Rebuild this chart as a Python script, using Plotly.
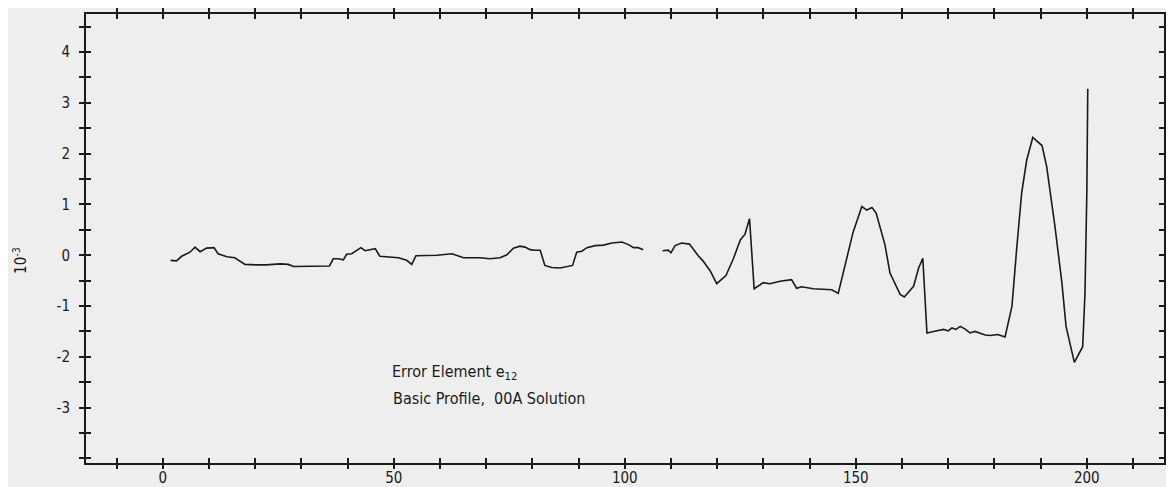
import plotly.graph_objects as go

# Error element e12 (units of 1e-3)
x_vals = [1.7, 3.0, 4.1, 5.9, 7.0, 8.1, 9.5, 11.1, 12.0, 13.9, 15.6, 17.8, 20.3, 22.4, 25.4,
          27.2, 28.3, 31.9, 36.1, 36.9, 38.0, 39.1, 39.8, 40.9, 42.9, 43.8, 44.9, 46.0, 47.0,
          49.2, 51.0, 52.8, 53.9, 54.8, 57.1, 59.3, 62.6, 65.1, 68.7, 70.8, 73.0, 74.5, 75.9,
          77.3, 78.4, 79.5, 80.6, 81.7, 82.7, 84.2, 86.0, 87.6, 88.7, 89.6, 90.7, 91.8, 93.6,
          95.4, 97.2, 99.4, 100.8, 101.9, 102.9, 104.0, None,
          108.2, 109.4, 110.0, 110.9, 112.3, 114.0, 115.9, 117.0, 118.5, 119.9, 121.9, 123.5,
          125.0, 126.0, 127.0, 128.0, 130.0, 131.4, 133.6, 136.1, 137.2, 138.3, 140.8, 143.7,
          144.8, 146.2, 148.1, 149.4, 151.3, 152.4, 153.5, 154.4, 156.3, 157.4, 159.6, 160.5,
          162.5, 163.6, 164.5, 165.4, 166.8, 168.0, 169.0, 170.0, 170.8, 171.7, 172.6, 173.6,
          174.7, 175.8, 176.9, 178.0, 179.1, 180.7, 182.3,
          183.8, 184.8, 185.9, 187.0, 188.3, 190.3, 191.3, 193.1, 194.6, 195.5, 197.3, 199.1,
          199.6, 200.0, 200.2]
y_vals = [-0.10, -0.11, -0.02, 0.06, 0.16, 0.07, 0.14, 0.15, 0.03, -0.03, -0.05, -0.18, -0.19, -0.19, -0.17,
          -0.18, -0.22, -0.21, -0.21, -0.07, -0.07, -0.09, 0.02, 0.03, 0.15, 0.09, 0.11, 0.13, -0.02,
          -0.04, -0.05, -0.10, -0.18, -0.01, -0.01, 0.00, 0.03, -0.05, -0.05, -0.07, -0.05, 0.01, 0.14,
          0.18, 0.16, 0.11, 0.10, 0.10, -0.20, -0.24, -0.25, -0.22, -0.20, 0.06, 0.08, 0.15, 0.19,
          0.20, 0.24, 0.26, 0.21, 0.15, 0.15, 0.11, None,
          0.09, 0.10, 0.05, 0.19, 0.24, 0.22, -0.01, -0.12, -0.31, -0.56, -0.40, -0.07,
          0.30, 0.41, 0.72, -0.66, -0.54, -0.56, -0.51, -0.48, -0.65, -0.62, -0.66, -0.68,
          -0.68, -0.75, -0.02, 0.45, 0.96, 0.89, 0.94, 0.83, 0.21, -0.35, -0.77, -0.82,
          -0.61, -0.25, -0.06, -1.53, -1.50, -1.48, -1.46, -1.49, -1.43, -1.46, -1.40, -1.45,
          -1.53, -1.50, -1.54, -1.57, -1.58, -1.56, -1.61,
          -1.00, 0.11, 1.23, 1.88, 2.32, 2.16, 1.75, 0.57, -0.54, -1.40, -2.11, -1.80,
          -0.74, 1.23, 3.28]

x_ticks = list(range(-10, 211, 10))
x_labels = [str(v) if v % 50 == 0 and v >= 0 else "" for v in x_ticks]
y_ticks = [v / 2 for v in range(-8, 10)]
y_labels = [str(int(v)) if v == int(v) and v != -4 else "" for v in y_ticks]

x_range = [-16.6, 216.7]
y_range = [-4.09, 4.75]

FONT = "DejaVu Sans Condensed, Liberation Sans Narrow, Roboto, sans-serif"
INK = "#1a1a1a"
BG = "#eeeeee"

fig = go.Figure()
fig.add_trace(go.Scatter(x=x_vals, y=y_vals, mode="lines",
                         line=dict(color=INK, width=1.6), connectgaps=False,
                         hoverinfo="skip", showlegend=False))
# invisible trace so the overlay axes (other tick halves) are drawn
fig.add_trace(go.Scatter(x=[0], y=[0], xaxis="x2", yaxis="y2", mode="markers",
                         marker=dict(opacity=0), hoverinfo="skip", showlegend=False))

axis_common = dict(showgrid=False, zeroline=False, ticklen=5, tickwidth=1.5,
                   tickcolor=INK, automargin=False)

# the page body adds an 8px offset; the figure is sized to fit the window
fig.update_layout(
    width=1166, height=479,
    margin=dict(l=78, r=10, t=6, b=24),
    paper_bgcolor=BG, plot_bgcolor=BG,
    font=dict(family=FONT, size=16, color=INK),
    xaxis=dict(range=x_range, tickmode="array", tickvals=x_ticks, ticktext=x_labels,
               ticks="inside", mirror="allticks", showline=True, linecolor=INK,
               linewidth=2, ticklabelstandoff=0, tickfont=dict(size=15), **axis_common),
    yaxis=dict(range=y_range, tickmode="array", tickvals=y_ticks, ticktext=y_labels,
               ticks="outside", mirror="allticks", showline=True, linecolor=INK,
               linewidth=2, ticklabelstandoff=6, tickfont=dict(size=15), **axis_common),
    xaxis2=dict(range=x_range, overlaying="x", tickmode="array", tickvals=x_ticks,
                ticks="outside", mirror="allticks", showline=False, showticklabels=False,
                **axis_common),
    yaxis2=dict(range=y_range, overlaying="y", tickmode="array", tickvals=y_ticks,
                ticks="inside", mirror="allticks", showline=False, showticklabels=False,
                **axis_common),
)

fig.add_annotation(text="10<sup>-3</sup>", xref="paper", yref="paper",
                   x=(12 - 78) / 1078, y=0.45, textangle=-90, showarrow=False,
                   font=dict(size=15), xanchor="center", yanchor="middle")
fig.add_annotation(text="Error Element e<sub>12</sub>", x=49.2, y=-2.3,
                   xanchor="left", yanchor="middle", showarrow=False, font=dict(size=16))
fig.add_annotation(text="Basic Profile,  00A Solution", x=49.4, y=-2.82,
                   xanchor="left", yanchor="middle", showarrow=False, font=dict(size=16))

fig.write_html("out.html")
